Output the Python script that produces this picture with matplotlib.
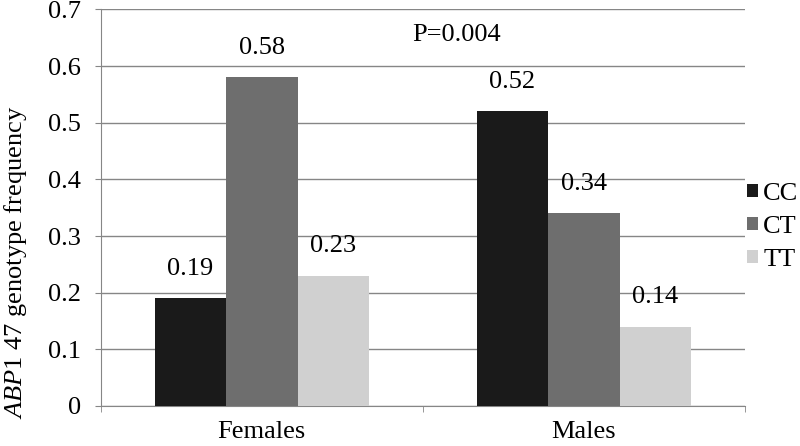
import numpy as np
import matplotlib
matplotlib.use('Agg')
import matplotlib.pyplot as plt

plt.rcParams['font.family'] = ['Liberation Serif', 'DejaVu Serif']
plt.rcParams['mathtext.fontset'] = 'custom'
plt.rcParams['mathtext.rm'] = 'Liberation Serif'
plt.rcParams['mathtext.it'] = 'Liberation Serif:italic'

groups = ['Females', 'Males']
genotypes = ['CC', 'CT', 'TT']
cc = [0.19, 0.52]
ct = [0.58, 0.34]
tt = [0.23, 0.14]
colors = ['#1a1a1a', '#6e6e6e', '#d0d0d0']
fs = 19

fig = plt.figure(figsize=(8, 4.46), dpi=100)
ax = fig.add_axes([0.126, 0.0897, 0.805, 0.889])

x = np.arange(len(groups))
w = 0.222
for i, (vals, name) in enumerate(zip([cc, ct, tt], genotypes)):
    bars = ax.bar(x + (i - 1) * w, vals, w, color=colors[i], label=name, zorder=3)
    for b, v in zip(bars, vals):
        ax.annotate(f'{v:.2f}', (b.get_x() + b.get_width() / 2, v),
                    xytext=(0, 21.5), textcoords='offset points',
                    ha='center', va='center', fontsize=fs)

ax.set_xlim(-0.5, 1.5)
ax.set_ylim(0, 0.7)
ax.set_yticks(np.arange(0, 0.71, 0.1))
ax.set_yticklabels(['0'] + [f'{v:.1f}' for v in np.arange(0.1, 0.71, 0.1)], fontsize=fs)
ax.set_xticks(x)
ax.set_xticklabels(groups, fontsize=fs)
ax.set_xticks([-0.5, 0.5, 1.5], minor=True)
ax.tick_params(axis='x', which='major', length=0, pad=11)
ax.tick_params(axis='x', which='minor', length=4.5, color='#868686')
ax.tick_params(axis='y', length=4.5, color='#868686', pad=10)

ax.grid(axis='y', color='#868686', linewidth=1, zorder=0)
for s in ['top', 'right']:
    ax.spines[s].set_visible(False)
for s in ['left', 'bottom']:
    ax.spines[s].set_color('#868686')

fig.text(0.019, 1 - 262 / 446, r'$\mathit{ABP1}$ 47 genotype frequency', fontsize=fs,
         rotation=90, ha='center', va='center')
ax.text(0.606, 0.655, 'P=0.004', fontsize=fs, ha='center', va='center')

ax.legend(loc='center left', bbox_to_anchor=(1.0, 0.451), frameon=False, fontsize=fs,
          handlelength=0.4, handleheight=0.4, handletextpad=0.2, labelspacing=0.42,
          borderaxespad=0, borderpad=0.1)

fig.savefig('out.png', dpi=100)
